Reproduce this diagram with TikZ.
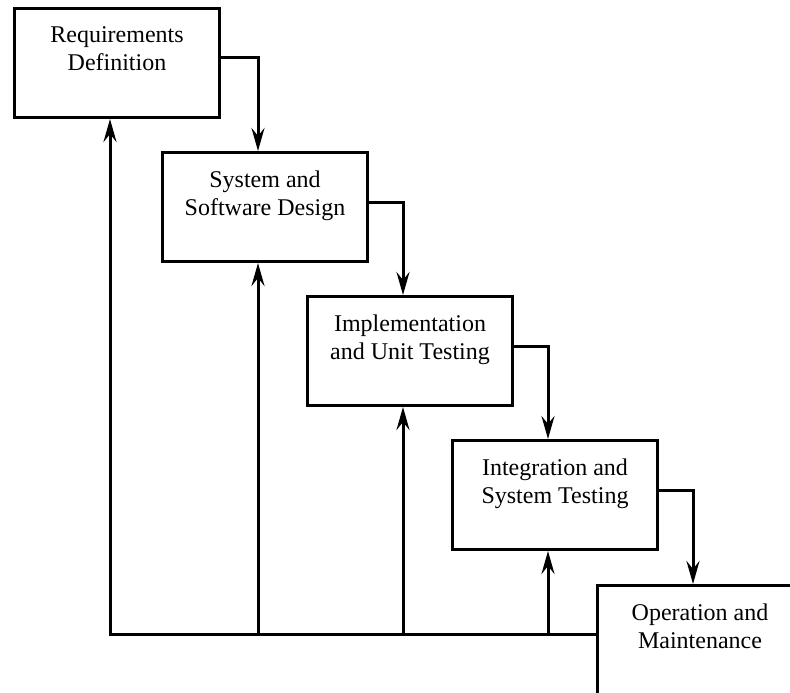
\documentclass[tikz,border=0pt]{standalone}
\usepackage{fontspec}
\setmainfont{Liberation Serif}
\usetikzlibrary{arrows.meta}
\tikzset{
  stage/.style={draw, line width=3pt, minimum width=205pt, minimum height=109pt,
    anchor=north west, align=center, inner sep=0pt,
    font=\fontsize{24}{28}\selectfont},
  flow/.style={line width=3pt, -{Stealth[length=23pt,width=13pt,inset=8pt]}},
}
\begin{document}
\begin{tikzpicture}[x=1pt,y=-1pt]
\clip (0,0) rectangle (790,693);
\fill[white] (0,0) rectangle (790,693);

\node[stage] (req) at (13,7) {Requirements\\Definition\\\mbox{}};
\node[stage] (des) at (161,151) {System and\\Software Design\\\mbox{}};
\node[stage] (imp) at (306,295) {Implementation\\and Unit Testing\\\mbox{}};
\node[stage] (integ) at (451,439) {Integration and\\System Testing\\\mbox{}};
\node[stage] (ops) at (596,584) {Operation and\\Maintenance\\\mbox{}};

% going down
\draw[flow] ([yshift=5pt]req.east) -| ([xshift=-7pt]des.north);
\draw[flow] ([yshift=5pt]des.east) -| ([xshift=-7pt]imp.north);
\draw[flow] ([yshift=5pt]imp.east) -| ([xshift=-7pt]integ.north);
\draw[flow] ([yshift=5pt]integ.east) -| ([xshift=-7pt]ops.north);

% going back up
\coordinate (base) at ([yshift=6pt]ops.west);
\draw[flow] (base) -| ([xshift=-7pt]req.south);
\draw[flow] ([xshift=-7pt]des.south |- base) -- ([xshift=-7pt]des.south);
\draw[flow] ([xshift=-7pt]imp.south |- base) -- ([xshift=-7pt]imp.south);
\draw[flow] ([xshift=-7pt]integ.south |- base) -- ([xshift=-7pt]integ.south);
\end{tikzpicture}
\end{document}
